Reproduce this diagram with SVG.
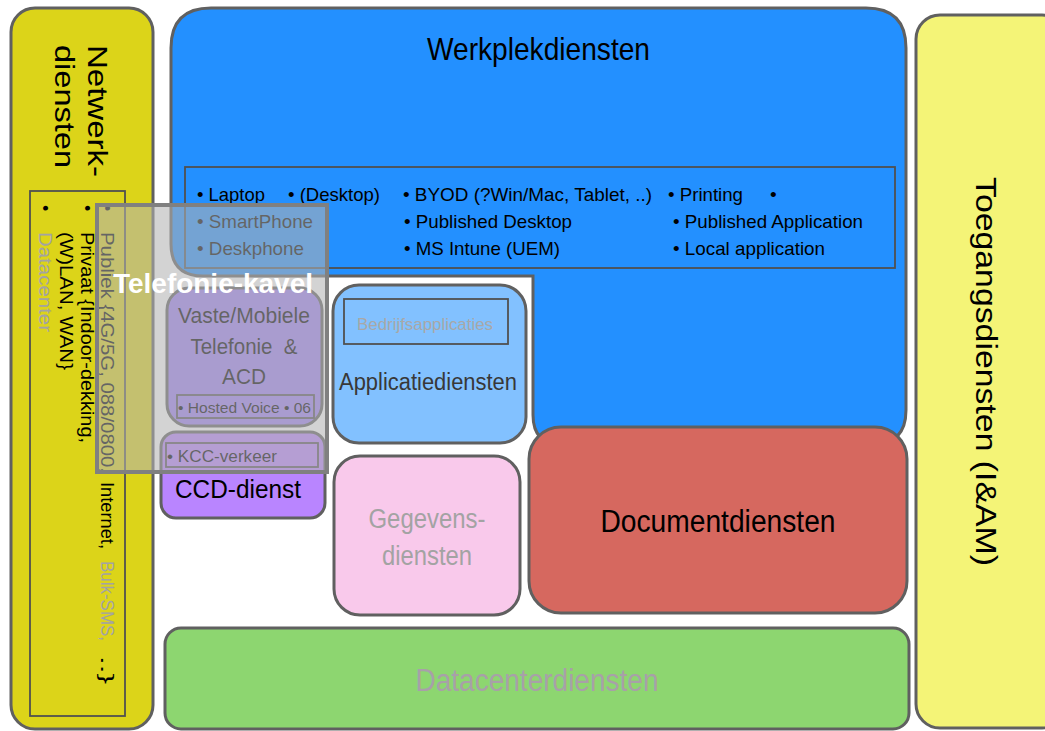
<svg xmlns="http://www.w3.org/2000/svg" width="1045" height="731" viewBox="0 0 1045 731">
<style>
.t{font-family:"Liberation Sans",Arial,sans-serif;}
.box{stroke:#606060;stroke-width:3;}
.inner{fill:none;stroke:#505050;stroke-width:1.8;}
.li{font-size:19px;fill:#000;}
.nl{font-size:18px;}
.gray{fill:#a3a3a3;}
</style>
<rect width="1045" height="731" fill="#ffffff"/>
<g id="netwerkdiensten">
<rect class="box" x="11" y="8" width="142" height="721" rx="24" fill="#dcd419"/>
<text class="t" font-size="28" transform="translate(88,45) rotate(90)" textLength="132" lengthAdjust="spacingAndGlyphs">Netwerk-</text>
<text class="t" font-size="28" transform="translate(55,45) rotate(90)" textLength="123" lengthAdjust="spacingAndGlyphs">diensten</text>
<rect class="inner" x="30" y="191" width="95" height="525" stroke="#666"/>
<text class="t nl" transform="translate(101,205) rotate(90)">•</text>
<text class="t nl" transform="translate(101,232) rotate(90)" textLength="241" lengthAdjust="spacingAndGlyphs">Publiek {4G/5G, 088/0800,</text>
<text class="t nl" transform="translate(101,482) rotate(90)" textLength="67" lengthAdjust="spacingAndGlyphs">Internet,</text>
<text class="t nl gray" transform="translate(101,561) rotate(90)" textLength="80" lengthAdjust="spacingAndGlyphs">Bulk-SMS,</text>
<text class="t nl" transform="translate(101,656) rotate(90)" textLength="28" lengthAdjust="spacingAndGlyphs">..}</text>
<text class="t nl" transform="translate(81,205) rotate(90)">•</text>
<text class="t nl" transform="translate(81,232) rotate(90)" textLength="211" lengthAdjust="spacingAndGlyphs">Privaat {Indoor-dekking,</text>
<text class="t nl" transform="translate(60,232) rotate(90)" textLength="138" lengthAdjust="spacingAndGlyphs">(W)LAN, WAN}</text>
<text class="t nl" transform="translate(39,205) rotate(90)">•</text>
<text class="t nl gray" transform="translate(39,232) rotate(90)" textLength="100" lengthAdjust="spacingAndGlyphs">Datacenter</text>
</g>
<g id="toegangsdiensten">
<rect class="box" x="916" y="15" width="150" height="713" rx="24" fill="#f4f477"/>
<text class="t" font-size="29" transform="translate(976,177) rotate(90)" textLength="389" lengthAdjust="spacingAndGlyphs">Toegangsdiensten (I&amp;AM)</text>
</g>
<g id="werkplekdiensten">
<path class="box" fill="#2390ff" d="M171,48 Q171,8 211,8 H866 Q906,8 906,48 V410 Q906,445 871,445 H563 Q533,445 533,415 V276 H203 Q171,276 171,244 Z"/>
<text class="t" font-size="32" x="427" y="60" textLength="223" lengthAdjust="spacingAndGlyphs">Werkplekdiensten</text>
<rect class="inner" x="185" y="167" width="710" height="101" stroke="#333"/>
<text class="t li" x="197" y="201" textLength="68" lengthAdjust="spacingAndGlyphs">• Laptop</text>
<text class="t li" x="288" y="201" textLength="92" lengthAdjust="spacingAndGlyphs">• (Desktop)</text>
<text class="t li" x="403" y="201" textLength="249" lengthAdjust="spacingAndGlyphs">• BYOD (?Win/Mac, Tablet, ..)</text>
<text class="t li" x="668" y="201" textLength="75" lengthAdjust="spacingAndGlyphs">• Printing</text>
<text class="t li" x="770" y="201">•</text>
<text class="t li" x="197" y="228" textLength="116" lengthAdjust="spacingAndGlyphs">• SmartPhone</text>
<text class="t li" x="404" y="228" textLength="168" lengthAdjust="spacingAndGlyphs">• Published Desktop</text>
<text class="t li" x="673" y="228" textLength="190" lengthAdjust="spacingAndGlyphs">• Published Application</text>
<text class="t li" x="197" y="255" textLength="107" lengthAdjust="spacingAndGlyphs">• Deskphone</text>
<text class="t li" x="404" y="255" textLength="156" lengthAdjust="spacingAndGlyphs">• MS Intune (UEM)</text>
<text class="t li" x="673" y="255" textLength="152" lengthAdjust="spacingAndGlyphs">• Local application</text>
</g>
<g id="applicatiediensten">
<rect class="box" x="333" y="285" width="193" height="158" rx="26" fill="#82c1ff"/>
<rect class="inner" x="344" y="299" width="164" height="45"/>
<text class="t" font-size="17" fill="#a8a8a8" x="425" y="330" text-anchor="middle" textLength="136" lengthAdjust="spacingAndGlyphs">Bedrijfsapplicaties</text>
<text class="t" font-size="23" fill="#383838" x="428" y="390" text-anchor="middle" textLength="178" lengthAdjust="spacingAndGlyphs">Applicatiediensten</text>
</g>
<g id="gegevensdiensten">
<rect class="box" x="334" y="456" width="186" height="159" rx="26" fill="#f9c9eb"/>
<text class="t" font-size="27" fill="#a3a3a3" x="427" y="528" text-anchor="middle" textLength="117" lengthAdjust="spacingAndGlyphs">Gegevens-</text>
<text class="t" font-size="27" fill="#a3a3a3" x="427" y="565" text-anchor="middle" textLength="90" lengthAdjust="spacingAndGlyphs">diensten</text>
</g>
<g id="documentdiensten">
<rect class="box" x="529" y="427" width="378" height="186" rx="32" fill="#d6685f"/>
<text class="t" font-size="31" x="718" y="532" text-anchor="middle" textLength="235" lengthAdjust="spacingAndGlyphs">Documentdiensten</text>
</g>
<g id="datacenterdiensten">
<rect class="box" x="165" y="628" width="744" height="101" rx="16" fill="#8dd670"/>
<text class="t" font-size="31" fill="#a8a0a8" x="537" y="691" text-anchor="middle" textLength="243" lengthAdjust="spacingAndGlyphs">Datacenterdiensten</text>
</g>
<g id="telefonie">
<rect class="box" x="167" y="288" width="155" height="138" rx="22" fill="#9f80f6"/>
<text class="t" font-size="22" x="244" y="323" text-anchor="middle" textLength="132" lengthAdjust="spacingAndGlyphs">Vaste/Mobiele</text>
<text class="t" font-size="22" x="244" y="354" text-anchor="middle" textLength="107" lengthAdjust="spacingAndGlyphs" xml:space="preserve">Telefonie  &amp;</text>
<text class="t" font-size="22" x="244" y="384" text-anchor="middle" textLength="44" lengthAdjust="spacingAndGlyphs">ACD</text>
<rect class="inner" x="177" y="395" width="137" height="23"/>
<text class="t" font-size="15" x="178" y="413" textLength="133" lengthAdjust="spacingAndGlyphs">• Hosted Voice • 06</text>
</g>
<g id="ccd-dienst">
<rect class="box" x="161" y="432" width="164" height="86" rx="15" fill="#b985ff"/>
<rect class="inner" x="166" y="443" width="152" height="24"/>
<text class="t" font-size="17" x="167" y="462" textLength="110" lengthAdjust="spacingAndGlyphs">• KCC-verkeer</text>
<text class="t" font-size="25" x="175" y="498" textLength="126" lengthAdjust="spacingAndGlyphs">CCD-dienst</text>
</g>
<g id="telefonie-kavel">
<rect x="97" y="205" width="230" height="267" fill="#b2b2b2" fill-opacity="0.57" stroke="#808080" stroke-width="4"/>
<text class="t" font-size="27" font-weight="bold" fill="#ffffff" x="113" y="293" textLength="200" lengthAdjust="spacingAndGlyphs">Telefonie-kavel</text>
</g>
<g id="connectors"></g>
</svg>
